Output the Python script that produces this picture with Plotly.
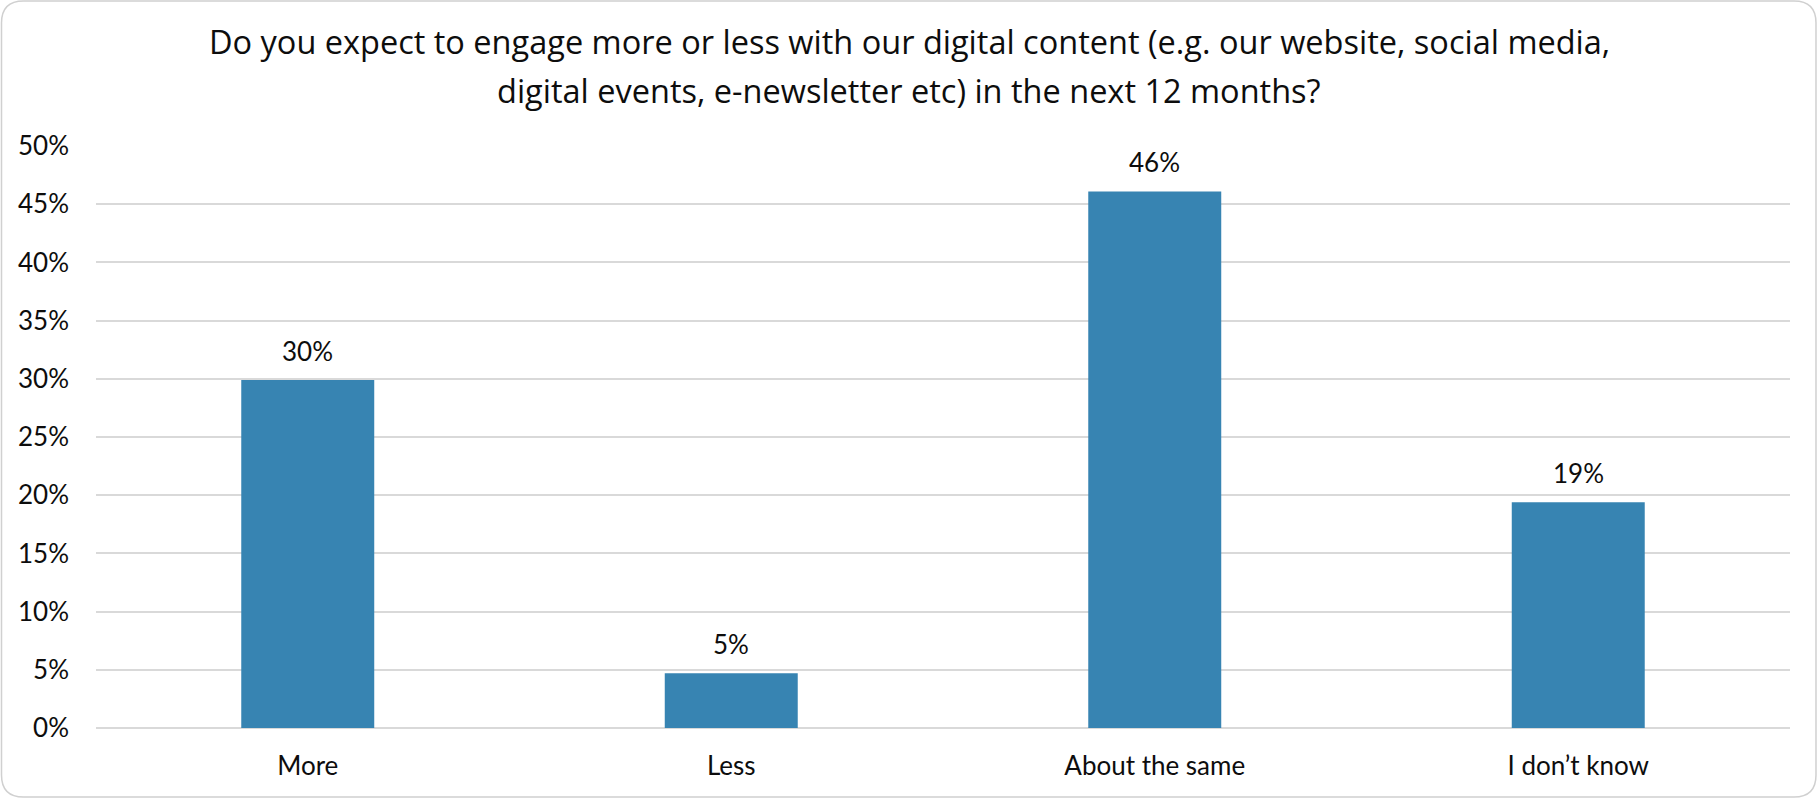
import plotly.graph_objects as go

# Survey responses (share of respondents)
categories = ["More", "Less", "About the same", "I don\u2019t know"]
shares = [0.299, 0.047, 0.461, 0.194]
y_ticks = [0, 0.05, 0.10, 0.15, 0.20, 0.25, 0.30, 0.35, 0.40, 0.45, 0.50]
title_lines = [
    "Do you expect to engage more or less with our digital content (e.g. our website, social media,",
    "digital events, e-newsletter etc) in the next 12 months?",
]

W, H = 1818, 799
ML, MR, MT, MB = 96, 28, 146, 71
PW, PH = W - ML - MR, H - MT - MB

BAR = "#3784B2"
GRID = "#D9D9D9"
FONT = "Lato"
TITLE_FONT = "Open Sans"
TXT = "#0d0d0d"


def px_to_paper(px, py):
    return (px - ML) / PW, (MT + PH - py) / PH


fig = go.Figure()
fig.add_trace(go.Bar(
    x=categories, y=shares,
    marker=dict(color=BAR, line=dict(width=0)),
    hoverinfo="skip",
))

# value labels above each bar
for c, v in zip(categories, shares):
    fig.add_annotation(
        x=c, y=v, text=f"{v:.0%}", showarrow=False,
        yanchor="bottom", yshift=11,
        font=dict(family=FONT, size=26, color=TXT),
    )

# two-line chart heading, centred on the full canvas
for line, cy in zip(title_lines, [42, 91]):
    tx, ty = px_to_paper(W / 2, cy)
    fig.add_annotation(
        x=tx, y=ty, xref="paper", yref="paper", text=line, showarrow=False,
        xanchor="center", yanchor="middle",
        font=dict(family=TITLE_FONT, size=32.5, color=TXT),
    )


def rounded_rect(x0, y0, x1, y1, r):
    def P(x, y):
        a, b = px_to_paper(x, y)
        return f"{a:.6f},{b:.6f}"
    return (
        f"M {P(x0 + r, y0)} L {P(x1 - r, y0)} Q {P(x1, y0)} {P(x1, y0 + r)} "
        f"L {P(x1, y1 - r)} Q {P(x1, y1)} {P(x1 - r, y1)} "
        f"L {P(x0 + r, y1)} Q {P(x0, y1)} {P(x0, y1 - r)} "
        f"L {P(x0, y0 + r)} Q {P(x0, y0)} {P(x0 + r, y0)} Z"
    )


# rounded chart-area frame
fig.add_shape(
    type="path", xref="paper", yref="paper",
    path=rounded_rect(1.5, 1.0, 1816.0, 797.0, 22),
    line=dict(color="#D0D0D0", width=1.5), layer="below",
)

fig.update_layout(
    width=W, height=H,
    margin=dict(l=ML, r=MR, t=MT, b=MB, pad=0),
    paper_bgcolor="white", plot_bgcolor="white",
    showlegend=False,
    bargap=0.686,
    font=dict(family=FONT, color=TXT),
    xaxis=dict(
        showgrid=False, showline=False, ticks="",
        tickfont=dict(family=FONT, size=26, color=TXT),
        ticklabelstandoff=20,
    ),
    yaxis=dict(
        range=[0, 0.5], tickvals=y_ticks, tickformat=".0%",
        showgrid=True, gridcolor=GRID, gridwidth=1.5,
        zeroline=True, zerolinecolor=GRID, zerolinewidth=1.5,
        showline=False, ticks="",
        tickfont=dict(family=FONT, size=26, color=TXT),
        ticklabelstandoff=26,
    ),
)

fig.write_html("out.html")
